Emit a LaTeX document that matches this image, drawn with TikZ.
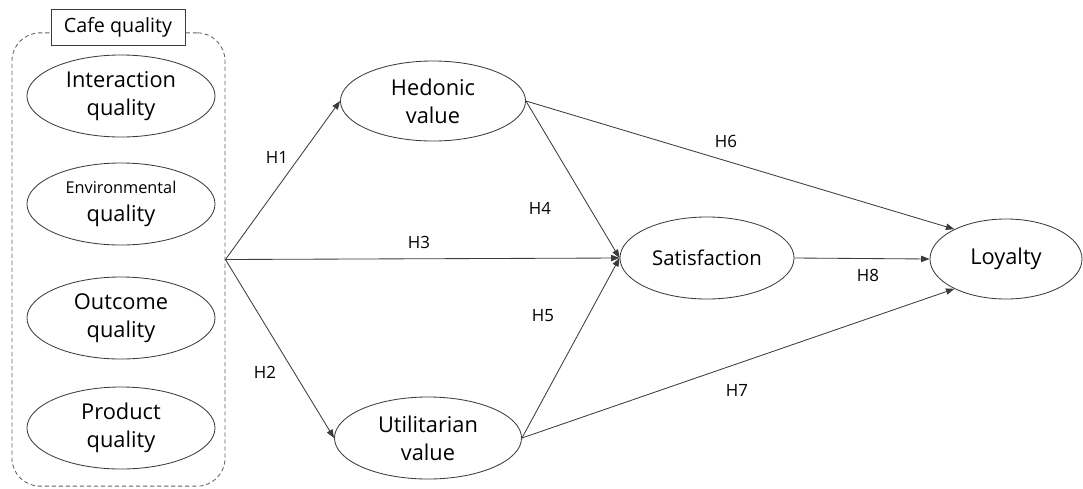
\documentclass[tikz,border=0pt]{standalone}
\usepackage{fontspec}
\setmainfont{Open Sans}
\usetikzlibrary{arrows.meta,shapes.geometric}
\definecolor{linegray}{RGB}{60,60,60}

\tikzset{
  construct/.style={draw=linegray, line width=0.6pt, ellipse, inner sep=0pt,
    align=center, font=\fontsize{15.5}{20}\selectfont,
    minimum width=4.7cm, minimum height=2.05cm},
  hpath/.style={draw=linegray, line width=0.6pt,
    -{Triangle[length=6pt,width=4.5pt]}},
  hyp/.style={font=\fontsize{12}{14}\selectfont, inner sep=0pt}
}

\begin{document}
\begin{tikzpicture}[x=0.025cm, y=-0.025cm]
    \useasboundingbox (0,0) rectangle (1083,488);

    % Cafe quality group
    \node (cafe) [draw=linegray!80, line width=0.6pt, dash pattern=on 3pt off 2pt,
      rounded corners=0.7cm, minimum width=5.325cm, minimum height=11.33cm,
      inner sep=0pt] at (118.5,259.5) {};
    \node (cafelbl) [draw=linegray, line width=0.6pt, fill=white,
      minimum width=3.35cm, minimum height=0.9cm, inner sep=0pt,
      font=\fontsize{14}{16}\selectfont] at (118,27) {Cafe quality};

    % Quality dimensions
    \node (inter) [construct] at (121,96) {Interaction\\quality};
    \node (envir) [construct, font=\fontsize{11.6}{20}\selectfont] at (121,204)
      {Environmental\\\fontsize{15.5}{20}\selectfont quality};
    \node (outc) [construct] at (121,318) {Outcome\\quality};
    \node (prod) [construct] at (121,428) {Product\\quality};

    % Values, satisfaction and loyalty
    \node (hed) [construct, minimum width=4.625cm, minimum height=2cm] at (433,101) {Hedonic\\value};
    \node (util) [construct, minimum width=4.675cm] at (428,438) {Utilitarian\\value};
    \node (sat) [construct, minimum width=4.35cm, font=\fontsize{14.5}{20}\selectfont] at (707,258) {Satisfaction};
    \node (loy) [construct, minimum width=3.8cm, minimum height=2cm] at (1006,259) {Loyalty};

    % Paths
    \draw[hpath] (cafe.east) -- (hed.west);
    \draw[hpath] (cafe.east) -- (util.west);
    \draw[hpath] (cafe.east) -- (sat.west);
    \draw[hpath] (hed.east) -- (sat.west);
    \draw[hpath] (util.east) -- (sat.west);
    \draw[hpath] (hed.east) -- (loy.150);
    \draw[hpath] (util.east) -- (loy.210);
    \draw[hpath] (sat.east) -- (loy.west);

    % Hypothesis labels
    \node (h1) [hyp] at (277,157) {H1};
    \node (h2) [hyp] at (265,372) {H2};
    \node (h3) [hyp] at (419,242) {H3};
    \node (h4) [hyp] at (540,208) {H4};
    \node (h5) [hyp] at (543,316) {H5};
    \node (h6) [hyp] at (726,141) {H6};
    \node (h7) [hyp] at (737,390) {H7};
    \node (h8) [hyp] at (868,275) {H8};
\end{tikzpicture}
\end{document}
